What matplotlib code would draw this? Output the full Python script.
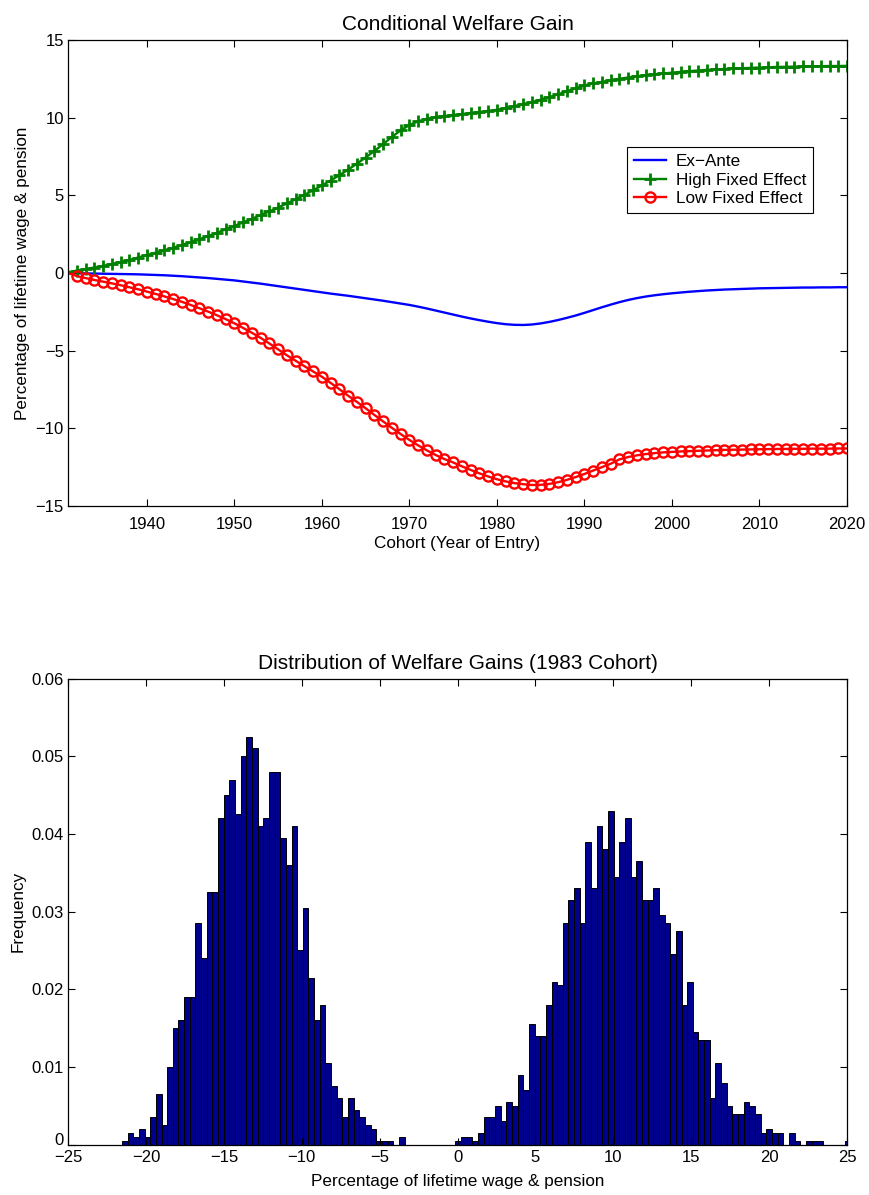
import numpy as np
import matplotlib
matplotlib.use("Agg")
import matplotlib.pyplot as plt
import matplotlib.transforms as mtransforms

plt.rcParams["font.family"] = ["Liberation Sans", "DejaVu Sans"]

# Cohort years
anos = list(range(1931, 2021))

# Welfare gain by cohort (% of lifetime wage & pension)
ex_ante = [0.0, -0.02, -0.03, -0.04, -0.05, -0.06, -0.07, -0.08, -0.09, -0.11,
           -0.13, -0.15, -0.18, -0.21, -0.25, -0.29, -0.33, -0.38, -0.43, -0.48,
           -0.55, -0.62, -0.69, -0.77, -0.85, -0.93, -1.01, -1.09, -1.17, -1.25,
           -1.33, -1.40, -1.47, -1.55, -1.63, -1.71, -1.79, -1.88, -1.97, -2.06,
           -2.17, -2.29, -2.42, -2.55, -2.68, -2.81, -2.93, -3.04, -3.14, -3.23,
           -3.30, -3.34, -3.35, -3.32, -3.25, -3.15, -3.03, -2.89, -2.74, -2.57,
           -2.39, -2.21, -2.04, -1.88, -1.74, -1.62, -1.52, -1.44, -1.37, -1.31,
           -1.26, -1.21, -1.17, -1.13, -1.10, -1.07, -1.05, -1.03, -1.01, -0.99,
           -0.98, -0.97, -0.96, -0.95, -0.94, -0.94, -0.93, -0.93, -0.92, -0.92]

high_fe = [0.05, 0.15, 0.25, 0.35, 0.45, 0.58, 0.70, 0.84, 0.99, 1.15,
           1.30, 1.46, 1.62, 1.80, 1.98, 2.17, 2.37, 2.58, 2.80, 3.02,
           3.25, 3.48, 3.72, 3.96, 4.21, 4.47, 4.74, 5.02, 5.32, 5.63,
           5.95, 6.29, 6.65, 7.03, 7.43, 7.85, 8.30, 8.75, 9.18, 9.52,
           9.76, 9.92, 10.03, 10.10, 10.17, 10.23, 10.29, 10.36, 10.43, 10.50,
           10.62, 10.74, 10.87, 11.00, 11.15, 11.32, 11.50, 11.70, 11.89, 12.07,
           12.20, 12.30, 12.40, 12.50, 12.58, 12.66, 12.73, 12.79, 12.84, 12.89,
           12.94, 12.99, 13.03, 13.07, 13.10, 13.13, 13.16, 13.18, 13.20, 13.22,
           13.24, 13.26, 13.27, 13.28, 13.29, 13.30, 13.31, 13.32, 13.32, 13.33]

low_fe = [0.0, -0.20, -0.33, -0.45, -0.56, -0.67, -0.79, -0.92, -1.05, -1.20,
          -1.35, -1.51, -1.68, -1.86, -2.06, -2.27, -2.49, -2.72, -2.97, -3.24,
          -3.54, -3.85, -4.18, -4.54, -4.92, -5.30, -5.65, -6.00, -6.34, -6.68,
          -7.08, -7.48, -7.90, -8.30, -8.71, -9.14, -9.56, -9.97, -10.37, -10.75,
          -11.10, -11.42, -11.72, -11.98, -12.20, -12.45, -12.68, -12.90, -13.10, -13.28,
          -13.42, -13.53, -13.60, -13.65, -13.64, -13.58, -13.47, -13.32, -13.14, -12.94,
          -12.72, -12.50, -12.28, -12.00, -11.85, -11.74, -11.66, -11.60, -11.55, -11.52,
          -11.49, -11.47, -11.45, -11.43, -11.41, -11.39, -11.38, -11.37, -11.36, -11.35,
          -11.34, -11.33, -11.33, -11.32, -11.32, -11.31, -11.31, -11.31, -11.30, -11.30]

# Distribution of welfare gains, 1983 cohort (bin frequencies)
bin_inicio = -21.54
bin_largura = 0.3628
frequencia = [0.0005, 0.0015, 0.001, 0.002, 0.001, 0.0035, 0.0065, 0.0025, 0.010, 0.015,
              0.016, 0.019, 0.019, 0.0285, 0.024, 0.0325, 0.0325, 0.042, 0.045, 0.047,
              0.0425, 0.050, 0.0525, 0.051, 0.041, 0.042, 0.048, 0.048, 0.0395, 0.036,
              0.041, 0.025, 0.0305, 0.0215, 0.016, 0.018, 0.0105, 0.0075, 0.006, 0.0035,
              0.006, 0.0045, 0.0035, 0.0025, 0.002, 0.0005, 0.0005, 0.0005, 0.0, 0.001,
              0.0, 0.0, 0.0, 0.0, 0.0, 0.0, 0.0, 0.0, 0.0, 0.0005,
              0.001, 0.001, 0.0005, 0.0015, 0.0035, 0.0035, 0.005, 0.003, 0.0055, 0.005,
              0.009, 0.007, 0.0155, 0.014, 0.014, 0.018, 0.021, 0.0205, 0.0285, 0.0315,
              0.033, 0.0285, 0.039, 0.033, 0.041, 0.038, 0.043, 0.0345, 0.039, 0.042,
              0.0345, 0.0365, 0.0315, 0.0315, 0.033, 0.0295, 0.0285, 0.0245, 0.0275, 0.018,
              0.021, 0.0145, 0.0135, 0.0135, 0.006, 0.0105, 0.008, 0.005, 0.004, 0.004,
              0.0055, 0.005, 0.004, 0.0015, 0.002, 0.0015, 0.0015, 0.0, 0.0015, 0.0005,
              0.0, 0.0005, 0.0005, 0.0005, 0.0, 0.0, 0.0, 0.0, 0.0005]

bordas = bin_inicio + bin_largura * np.arange(len(frequencia))

fig = plt.figure(figsize=(8.69, 11.95), dpi=100)

# ---- Grafico 1: ganho condicional
ax1 = fig.add_axes([0.0783, 0.5766, 0.8964, 0.3900])
ax1.plot(anos, ex_ante, color="blue", lw=1.7, label="Ex\u2212Ante")
ax1.plot(anos, high_fe, color=(0, 0.5, 0), lw=1.7, marker="+", ms=8, mew=2.0,
         markevery=range(1, len(anos)), label="High Fixed Effect")
ax1.plot(anos, low_fe, color="red", lw=1.7, marker="o", ms=7.3, mew=1.7, mfc="none",
         markevery=range(1, len(anos)), label="Low Fixed Effect")
ax1.set_xlim(1931, 2020)
ax1.set_ylim(-15, 15)
ax1.set_xticks(range(1940, 2021, 10))
ax1.set_yticks(range(-15, 16, 5))
ax1.set_title("Conditional Welfare Gain", fontsize=15, pad=7)
ax1.set_xlabel("Cohort (Year of Entry)", fontsize=12.3, labelpad=3)
ax1.set_ylabel("Percentage of lifetime wage & pension", fontsize=12.3, labelpad=4)
leg = ax1.legend(loc="upper right", bbox_to_anchor=(0.9564, 0.770), fontsize=12.3,
                 frameon=True, fancybox=False, edgecolor="black", framealpha=1,
                 numpoints=1, handlelength=1.85, handletextpad=0.6, labelspacing=0.22,
                 borderpad=0.4, borderaxespad=0)
leg.get_frame().set_linewidth(0.8)
# so um marcador no meio de cada linha da legenda
for ln in leg.get_lines():
    ln.set_markevery([1])

# ---- Grafico 2: distribuicao
ax2 = fig.add_axes([0.0783, 0.0421, 0.8964, 0.3901])
ax2.bar(bordas, frequencia, width=bin_largura, align="edge",
        color=(0, 0, 0.5625), edgecolor="black", linewidth=0.7)
ax2.set_xlim(-25, 25)
ax2.set_ylim(0, 0.06)
ax2.set_xticks(range(-25, 26, 5))
ax2.set_yticks([0, 0.01, 0.02, 0.03, 0.04, 0.05, 0.06])
ax2.set_yticklabels(["0", "0.01", "0.02", "0.03", "0.04", "0.05", "0.06"])
ax2.set_title("Distribution of Welfare Gains (1983 Cohort)", fontsize=15, pad=7)
ax2.set_xlabel("Percentage of lifetime wage & pension", fontsize=12.3, labelpad=7)
ax2.set_ylabel("Frequency", fontsize=12.3, labelpad=4)

for ax in (ax1, ax2):
    ax.tick_params(direction="in", length=5, width=0.8, labelsize=12,
                   top=True, right=True)
    ax.tick_params(axis="y", pad=3)
    for s in ax.spines.values():
        s.set_linewidth(0.9)
ax1.tick_params(axis="x", pad=8)
ax2.tick_params(axis="x", pad=3.5)

# sobe um pouco o "0" para nao encostar no "-25"
desloca = mtransforms.ScaledTranslation(0, 4 / 72, fig.dpi_scale_trans)
rotulo_zero = ax2.get_yticklabels()[0]
rotulo_zero.set_transform(rotulo_zero.get_transform() + desloca)

plt.savefig("out.png", dpi=100)
